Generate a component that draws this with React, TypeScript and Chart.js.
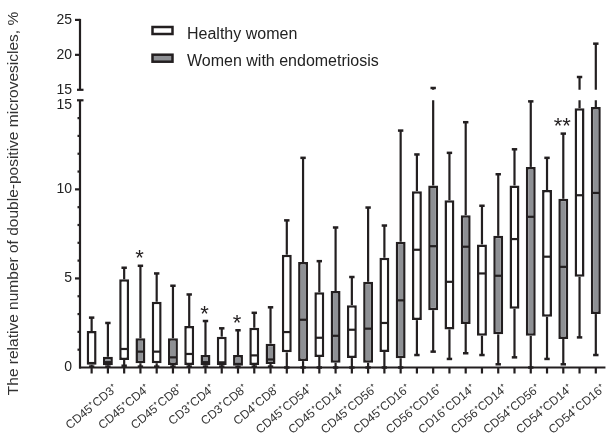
import React, { useEffect, useRef } from 'react';
import { Chart, registerables, LinearScale } from 'chart.js';

Chart.register(...registerables);

// ---------- data ----------
const categories = [
  'CD45⁺CD3⁺', 'CD45⁺CD4⁺', 'CD45⁺CD8⁺', 'CD3⁺CD4⁺', 'CD3⁺CD8⁺', 'CD4⁺CD8⁺',
  'CD45⁺CD54⁺', 'CD45⁺CD14⁺', 'CD45⁺CD56⁺', 'CD45⁺CD16⁺', 'CD56⁺CD16⁺',
  'CD16⁺CD14⁺', 'CD56⁺CD14⁺', 'CD54⁺CD56⁺', 'CD54⁺CD14⁺', 'CD54⁺CD16⁺',
];

const healthyMin    = [0.05, 0.1, 0.05, 0.05, 0.05, 0.05, 0, 0, 0, 0, 0.7, 0.48, 0.7, 0.57, 0.48, 1.69];
const healthyQ1     = [0.15, 0.42, 0.24, 0.14, 0.14, 0.14, 0.85, 0.59, 0.53, 0.87, 2.66, 2.14, 1.78, 3.3, 2.85, 5.09];
const healthyMedian = [0.25, 1.04, 0.89, 0.76, 0.29, 0.68, 1.99, 1.67, 2.12, 2.5, 6.61, 4.81, 5.28, 7.21, 6.22, 9.67];
const healthyQ3     = [2.05, 4.95, 3.69, 2.33, 1.73, 2.23, 6.33, 4.22, 3.5, 6.16, 9.9, 9.39, 6.91, 10.22, 9.96, 14.56];
const healthyMax    = [2.8, 5.6, 5.28, 4.1, 2.2, 3.07, 8.26, 5.97, 5.08, 7.97, 11.96, 12.05, 9.08, 12.25, 11.77, 16.83];

const endoMin    = [0.05, 0.05, 0.05, 0.05, 0.03, 0.05, 0, 0, 0, 0, 0.89, 0.8, 0.18, 0, 0.18, 0.7];
const endoQ1     = [0.12, 0.24, 0.14, 0.12, 0.1, 0.2, 0.36, 0.27, 0.27, 0.52, 3.22, 2.44, 1.86, 1.78, 1.6, 3.0];
const endoMedian = [0.3, 0.89, 0.57, 0.3, 0.2, 0.45, 2.68, 1.78, 2.18, 3.77, 6.81, 6.78, 5.15, 8.46, 5.65, 9.8];
const endoQ3     = [0.6, 1.64, 1.64, 0.7, 0.7, 1.34, 5.92, 4.29, 4.81, 7.06, 10.22, 8.55, 7.39, 11.26, 9.47, 14.63];
const endoMax    = [2.5, 5.71, 4.59, 2.61, 2.09, 3.38, 11.77, 7.86, 8.98, 13.3, 15.26, 13.77, 10.85, 14.94, 13.13, 21.6];

const endoSignificance = ['', '*', '', '*', '*', '', '', '', '', '', '', '', '', '', '**', ''];

const lowerTicks = [0, 5, 10, 15];
const upperTicks = [15, 20, 25];
const BREAK = 15;
const AXIS_MAX = 25;

const seriesLabels = ['Healthy women', 'Women with endometriosis'];

// ---------- style ----------
const DARK = '#231f20';
const GRAY = '#8e9094';
const FONT = "'Liberation Sans', Arial, sans-serif";
const LOWER_FRAC = 0.7687;       // share of plot height for 0..15
const UPPER_START_FRAC = 0.7989; // where the upper segment starts

class BrokenLinearScale extends LinearScale {
  static id = 'brokenLinear';
  static defaults = LinearScale.defaults;
  buildTicks() {
    return [
      ...lowerTicks.map((v) => ({ value: v })),
      ...upperTicks.map((v) => ({ value: v === BREAK ? BREAK + 1e-6 : v })),
    ];
  }
  getPixelForValue(value: number) {
    if (value === null || value === undefined || isNaN(value)) return NaN;
    const H = this.bottom - this.top;
    let f;
    if (value <= BREAK) f = (value / BREAK) * LOWER_FRAC;
    else f = UPPER_START_FRAC + ((value - BREAK) / (AXIS_MAX - BREAK)) * (1 - UPPER_START_FRAC);
    return this.bottom - H * f;
  }
  getValueForPixel(pixel: number) {
    const H = this.bottom - this.top;
    const f = (this.bottom - pixel) / H;
    if (f <= LOWER_FRAC) return (f / LOWER_FRAC) * BREAK;
    return BREAK + ((f - UPPER_START_FRAC) / (1 - UPPER_START_FRAC)) * (AXIS_MAX - BREAK);
  }
  getPixelForTick(index: number) {
    const t = this.ticks[index];
    if (!t) return NaN;
    let p = this.getPixelForValue(t.value);
    if (t.value === BREAK) p += 5; // keep the lower "15" clear of the upper one
    return p;
  }
}
Chart.register(BrokenLinearScale);

const stats = [
  { min: healthyMin, med: healthyMedian, max: healthyMax, q1: healthyQ1, q3: healthyQ3, sig: null as string[] | null },
  { min: endoMin, med: endoMedian, max: endoMax, q1: endoQ1, q3: endoQ3, sig: endoSignificance },
];

const boxPlugin = {
  id: 'boxExtras',
  afterDatasetsDraw(chart: any) {
    const ctx = chart.ctx;
    const y = chart.scales.y;
    const area = chart.chartArea;
    const axisX = area.left - 3.5;
    const eps = 1e-6;
    ctx.save();
    ctx.strokeStyle = DARK;
    ctx.fillStyle = DARK;

    const seg = (x: number, a: number, b: number) => {
      const lo = Math.min(a, b), hi = Math.max(a, b);
      ctx.beginPath();
      if (lo <= BREAK) {
        ctx.moveTo(x, y.getPixelForValue(lo));
        ctx.lineTo(x, y.getPixelForValue(Math.min(hi, BREAK)));
      }
      if (hi > BREAK) {
        ctx.moveTo(x, y.getPixelForValue(Math.max(lo, BREAK + eps)));
        ctx.lineTo(x, y.getPixelForValue(hi));
      }
      ctx.stroke();
    };

    stats.forEach((s, d) => {
      const meta = chart.getDatasetMeta(d);
      meta.data.forEach((el: any, i: number) => {
        const x = el.x;
        const w = el.width;
        ctx.lineWidth = 2.2;
        seg(x, s.q3[i], s.max[i]);
        seg(x, s.min[i], s.q1[i]);
        ctx.lineWidth = 2.5;
        [s.max[i], s.min[i]].forEach((v) => {
          const py = y.getPixelForValue(v);
          ctx.beginPath();
          ctx.moveTo(x - 2.7, py);
          ctx.lineTo(x + 2.7, py);
          ctx.stroke();
        });
        ctx.lineWidth = 2.2;
        const pm = y.getPixelForValue(s.med[i]);
        ctx.beginPath();
        ctx.moveTo(x - w / 2 + 1, pm);
        ctx.lineTo(x + w / 2 - 1, pm);
        ctx.stroke();
        if (s.sig && s.sig[i]) {
          ctx.font = `22px ${FONT}`;
          ctx.textAlign = 'center';
          ctx.textBaseline = 'alphabetic';
          ctx.fillText(s.sig[i], x - 1, y.getPixelForValue(s.max[i]) - 0.5);
        }
      });
    });

    // x axis line + ticks at every box
    const y0 = y.getPixelForValue(0);
    ctx.lineWidth = 2.2;
    ctx.beginPath();
    ctx.moveTo(axisX - 1, y0);
    ctx.lineTo(area.right + 1.5, y0);
    ctx.stroke();
    stats.forEach((_, d) => {
      chart.getDatasetMeta(d).data.forEach((el: any) => {
        ctx.beginPath();
        ctx.moveTo(el.x, y0);
        ctx.lineTo(el.x, y0 + 6);
        ctx.stroke();
      });
    });

    // lower y axis
    const p15 = y.getPixelForValue(BREAK);
    ctx.beginPath();
    ctx.moveTo(axisX, y0 + 1);
    ctx.lineTo(axisX, p15);
    ctx.stroke();
    ctx.beginPath();
    ctx.moveTo(axisX - 3, p15);
    ctx.lineTo(axisX + 3.5, p15);
    ctx.stroke();
    for (let v = 1; v < BREAK; v++) {
      const py = y.getPixelForValue(v);
      const len = v % 5 === 0 ? 5 : 2.5;
      ctx.beginPath();
      ctx.moveTo(axisX - len, py);
      ctx.lineTo(axisX, py);
      ctx.stroke();
    }
    // upper y axis
    const pu15 = y.getPixelForValue(BREAK + eps);
    const p25 = y.getPixelForValue(AXIS_MAX);
    ctx.beginPath();
    ctx.moveTo(axisX, pu15);
    ctx.lineTo(axisX, p25 - 1);
    ctx.stroke();
    ctx.beginPath();
    ctx.moveTo(axisX - 3, pu15);
    ctx.lineTo(axisX + 3.5, pu15);
    ctx.stroke();
    [20, 25].forEach((v) => {
      const py = y.getPixelForValue(v);
      ctx.beginPath();
      ctx.moveTo(axisX - 5, py);
      ctx.lineTo(axisX, py);
      ctx.stroke();
    });
    ctx.restore();
  },
  afterDraw(chart: any) {
    const ctx = chart.ctx;
    ctx.save();
    // y title
    ctx.translate(13.5, 203.5);
    ctx.rotate(-Math.PI / 2);
    ctx.font = `15.5px ${FONT}`;
    ctx.fillStyle = '#333';
    ctx.textAlign = 'center';
    ctx.textBaseline = 'middle';
    ctx.fillText('The relative number of double-positive microvesicles, %', 0, 0);
    ctx.restore();

    // legend
    ctx.save();
    chart.data.datasets.forEach((ds: any, i: number) => {
      const top = 27 + i * 27.7;
      ctx.fillStyle = ds.backgroundColor;
      ctx.fillRect(152.5, top, 20, 7);
      ctx.strokeStyle = DARK;
      ctx.lineWidth = 2.5;
      ctx.strokeRect(152.5, top, 20, 7);
      ctx.fillStyle = '#222';
      ctx.font = `16px ${FONT}`;
      ctx.textAlign = 'left';
      ctx.textBaseline = 'alphabetic';
      ctx.fillText(ds.label, 187, top + 11.5);
    });
    ctx.restore();
  },
};

export default function App() {
  const ref = useRef<HTMLCanvasElement>(null);
  useEffect(() => {
    if (!ref.current) return;
    const chart = new Chart(ref.current, {
      type: 'bar',
      data: {
        labels: categories,
        datasets: [
          {
            label: seriesLabels[0],
            data: categories.map((_, i) => [healthyQ1[i], healthyQ3[i]]),
            backgroundColor: '#ffffff',
            borderColor: DARK,
            borderWidth: 2.5,
            borderSkipped: false,
          },
          {
            label: seriesLabels[1],
            data: categories.map((_, i) => [endoQ1[i], endoQ3[i]]),
            backgroundColor: GRAY,
            borderColor: DARK,
            borderWidth: 2.5,
            borderSkipped: false,
          },
        ] as any,
      },
      options: {
        responsive: false,
        animation: false,
        layout: { padding: { top: 19.5, right: 2, left: 0, bottom: 0 } },
        plugins: { legend: { display: false }, tooltip: { enabled: false } },
        datasets: { bar: { categoryPercentage: 1, barPercentage: 0.61 } },
        scales: {
          x: {
            type: 'category',
            grid: { display: false, drawTicks: false },
            border: { display: false },
            ticks: {
              autoSkip: false,
              minRotation: 40,
              maxRotation: 40,
              color: '#333',
              font: { family: FONT, size: 12 },
              padding: 14,
              labelOffset: 16,
            },
            afterFit: (s: any) => { s.height = 67.5; },
          },
          y: {
            type: 'brokenLinear' as any,
            min: 0,
            max: AXIS_MAX,
            position: 'left',
            grid: { display: false, drawTicks: false },
            border: { display: false },
            ticks: {
              autoSkip: false,
              color: '#222',
              font: { family: FONT, size: 14 },
              padding: 11.5,
              callback: (v: any) => String(Math.round(Number(v))),
            },
            afterFit: (s: any) => { s.width = 83.5; },
          },
        },
      } as any,
      plugins: [boxPlugin],
    });
    return () => chart.destroy();
  }, []);
  return (
    <div style={{ position: 'absolute', left: 0, top: 0, width: 611, height: 435 }}>
      <canvas ref={ref} width={611} height={435} style={{ display: 'block' }} />
    </div>
  );
}
